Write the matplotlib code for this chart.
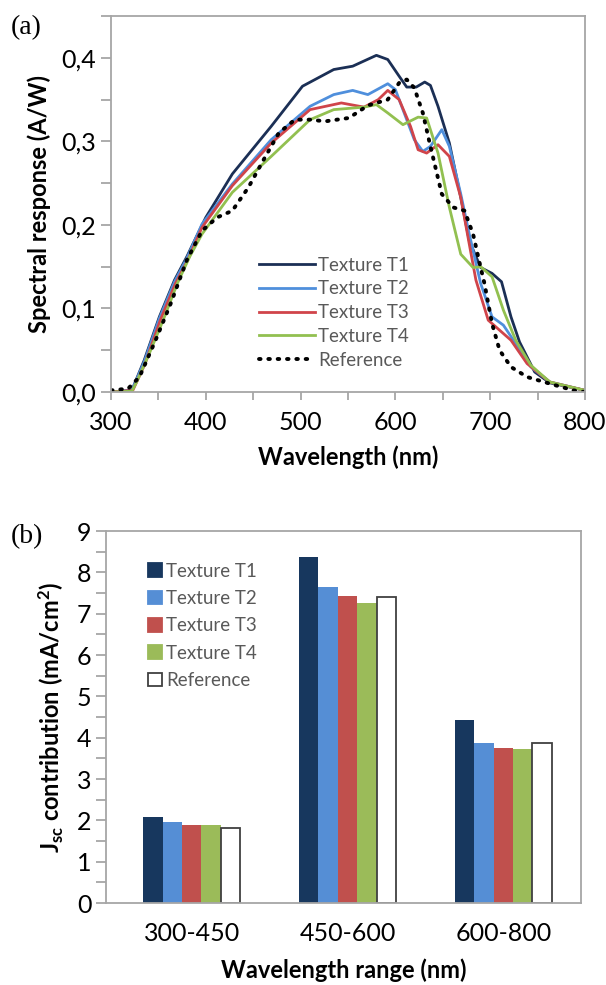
"""
Spectral response of textured cells (a) and Jsc contribution per wavelength range (b)
"""

import matplotlib
matplotlib.use('Agg')
import matplotlib.pyplot as plt
from matplotlib.ticker import MultipleLocator, FuncFormatter
from matplotlib.patches import Patch
import numpy as np

plt.rcParams['font.family'] = ['Lato', 'DejaVu Sans']
plt.rcParams['mathtext.fontset'] = 'custom'
plt.rcParams['mathtext.bf'] = 'Lato:bold'
plt.rcParams['mathtext.rm'] = 'Lato'

# --- (a) spectral response ---
wl_t1 = [300, 322, 335, 351, 367, 380, 388, 400, 428, 469, 502, 535, 555, 580,
         592, 604, 612, 622, 631, 637, 645, 657, 669, 678, 690, 702, 712, 722,
         731, 747, 763, 800]
sr_t1 = [0.0, 0.002, 0.038, 0.09, 0.134, 0.162, 0.181, 0.209, 0.261, 0.318,
         0.366, 0.386, 0.390, 0.403, 0.398, 0.378, 0.365, 0.365, 0.371, 0.367,
         0.342, 0.298, 0.233, 0.181, 0.149, 0.142, 0.132, 0.09, 0.06, 0.024,
         0.011, 0.002]

wl_t2 = [300, 322, 335, 351, 367, 380, 396, 428, 469, 510, 535, 555, 571, 592,
         600, 612, 620, 629, 637, 649, 657, 669, 678, 690, 702, 714, 727, 743,
         763, 800]
sr_t2 = [0.0, 0.002, 0.036, 0.088, 0.132, 0.16, 0.201, 0.249, 0.302, 0.342,
         0.356, 0.361, 0.356, 0.369, 0.362, 0.326, 0.302, 0.288, 0.294, 0.314,
         0.294, 0.237, 0.189, 0.13, 0.09, 0.08, 0.058, 0.03, 0.012, 0.002]

wl_t3 = [300, 323, 336, 352, 368, 381, 396, 428, 469, 510, 543, 567, 582, 592,
         604, 616, 624, 633, 645, 657, 669, 678, 685, 698, 710, 722, 739, 763,
         800]
sr_t3 = [0.0, 0.002, 0.034, 0.086, 0.13, 0.158, 0.197, 0.247, 0.298, 0.338,
         0.346, 0.341, 0.350, 0.361, 0.350, 0.318, 0.290, 0.286, 0.296, 0.282,
         0.233, 0.177, 0.134, 0.086, 0.074, 0.062, 0.034, 0.012, 0.002]

wl_t4 = [300, 322, 327, 340, 355, 370, 383, 396, 428, 469, 510, 535, 567, 580,
         592, 608, 624, 633, 645, 657, 669, 682, 690, 702, 714, 727, 743, 763,
         800]
sr_t4 = [0.0, 0.001, 0.012, 0.045, 0.086, 0.13, 0.162, 0.189, 0.239, 0.282,
         0.326, 0.338, 0.341, 0.344, 0.334, 0.320, 0.329, 0.328, 0.286, 0.221,
         0.165, 0.149, 0.150, 0.138, 0.098, 0.062, 0.032, 0.012, 0.002]

wl_ref = [300, 318, 330, 347, 363, 380, 396, 412, 428, 445, 461, 477, 494, 510,
          526, 551, 571, 592, 604, 612, 620, 629, 637, 649, 661, 673, 682, 690,
          694, 702, 710, 722, 739, 763, 788, 800]
sr_ref = [0.002, 0.004, 0.018, 0.062, 0.106, 0.158, 0.193, 0.209, 0.217,
          0.245, 0.278, 0.310, 0.326, 0.326, 0.324, 0.328, 0.343, 0.350, 0.370,
          0.374, 0.364, 0.334, 0.294, 0.237, 0.221, 0.217, 0.189, 0.149, 0.13,
          0.082, 0.05, 0.03, 0.018, 0.010, 0.002, 0.0]

# --- (b) Jsc contribution per wavelength range ---
ranges = ['300-450', '450-600', '600-800']
jsc_t1 = [2.08, 8.36, 4.43]
jsc_t2 = [1.96, 7.64, 3.87]
jsc_t3 = [1.89, 7.43, 3.75]
jsc_t4 = [1.89, 7.26, 3.73]
jsc_ref = [1.82, 7.41, 3.86]

labels = ['Texture T1', 'Texture T2', 'Texture T3', 'Texture T4', 'Reference']
line_colors = ['#1b2f55', '#4f8fdc', '#d0444a', '#92c050']
bar_colors = ['#17375e', '#558ed5', '#c0504d', '#9bbb59', 'white']
frame = '#a6a6a6'


def style_frame(ax):
    for s in ax.spines.values():
        s.set_color(frame)
        s.set_linewidth(1.3)
    ax.tick_params(which='both', color=frame, width=1.3, length=7,
                   direction='out', labelsize=18, labelcolor='black')


fig = plt.figure(figsize=(6.06, 9.85), dpi=100)

# panel (a)
ax1 = fig.add_axes([0.1832, 0.602, 0.782, 0.3817])
curves = [(wl_t1, sr_t1), (wl_t2, sr_t2), (wl_t3, sr_t3), (wl_t4, sr_t4)]
for (x, y), c, lab in zip(curves, line_colors, labels[:4]):
    ax1.plot(x, y, color=c, lw=2.0, label=lab)
ax1.plot(wl_ref, sr_ref, color='black', lw=2.8, ls=(0, (0.4, 2.0)),
         dash_capstyle='round', label=labels[4])
ax1.set_xlim(300, 800)
ax1.set_ylim(0, 0.45)
ax1.xaxis.set_major_locator(MultipleLocator(100))
ax1.xaxis.set_minor_locator(MultipleLocator(50))
ax1.yaxis.set_minor_locator(MultipleLocator(0.05))
ax1.set_yticks([0, 0.1, 0.2, 0.3, 0.4])
ax1.yaxis.set_major_formatter(FuncFormatter(lambda v, p: f'{v:.1f}'.replace('.', ',')))
style_frame(ax1)
ax1.tick_params(axis='x', which='both', length=6, pad=8)
ax1.set_xlabel('Wavelength (nm)', fontsize=17, fontweight='bold', labelpad=8)
ax1.set_ylabel('Spectral response (A/W)', fontsize=17, fontweight='bold', labelpad=8)
leg1 = ax1.legend(loc='upper left', bbox_to_anchor=(0.285, 0.395), frameon=False,
                  fontsize=13.5, handlelength=3.0, handletextpad=0.15,
                  labelspacing=0.36, borderpad=0.2)
for t in leg1.get_texts():
    t.set_color('#595959')

# panel (b)
ax2 = fig.add_axes([0.175, 0.0832, 0.784, 0.3777])
x = np.arange(len(ranges))
w = 0.125
series = [jsc_t1, jsc_t2, jsc_t3, jsc_t4, jsc_ref]
for i, (vals, c, lab) in enumerate(zip(series, bar_colors, labels)):
    ec = '#404040' if c == 'white' else 'none'
    ax2.bar(x + (i - 2) * w, vals, w, color=c, edgecolor=ec,
            linewidth=1.3 if c == 'white' else 0, label=lab)
ax2.set_xlim(-0.55, 2.5)
ax2.set_ylim(0, 9)
ax2.set_xticks(x)
ax2.set_xticklabels(ranges)
ax2.yaxis.set_major_locator(MultipleLocator(1))
ax2.yaxis.set_minor_locator(MultipleLocator(0.5))
style_frame(ax2)
ax2.tick_params(axis='x', length=0, pad=14)
ax2.set_xlabel('Wavelength range (nm)', fontsize=17, fontweight='bold', labelpad=9)
ax2.set_ylabel(r'J$\mathbf{_{sc}}$ contribution (mA/cm$\mathbf{^{2}}$)',
               fontsize=17, fontweight='bold', labelpad=8)
handles = [Patch(facecolor=c, edgecolor='#404040' if c == 'white' else c, linewidth=1.3)
           for c in bar_colors]
leg2 = ax2.legend(handles, labels, loc='upper left', bbox_to_anchor=(0.06, 0.95),
                  frameon=False, fontsize=13.5, handlelength=0.75, handleheight=0.75,
                  handletextpad=0.25, labelspacing=0.55, borderpad=0.2)
for t in leg2.get_texts():
    t.set_color('#595959')

fig.text(0.018, 0.985, '(a)', family='Liberation Serif', fontsize=20, va='top')
fig.text(0.018, 0.468, '(b)', family='Liberation Serif', fontsize=20, va='top')

fig.savefig('out.png', dpi=100)
